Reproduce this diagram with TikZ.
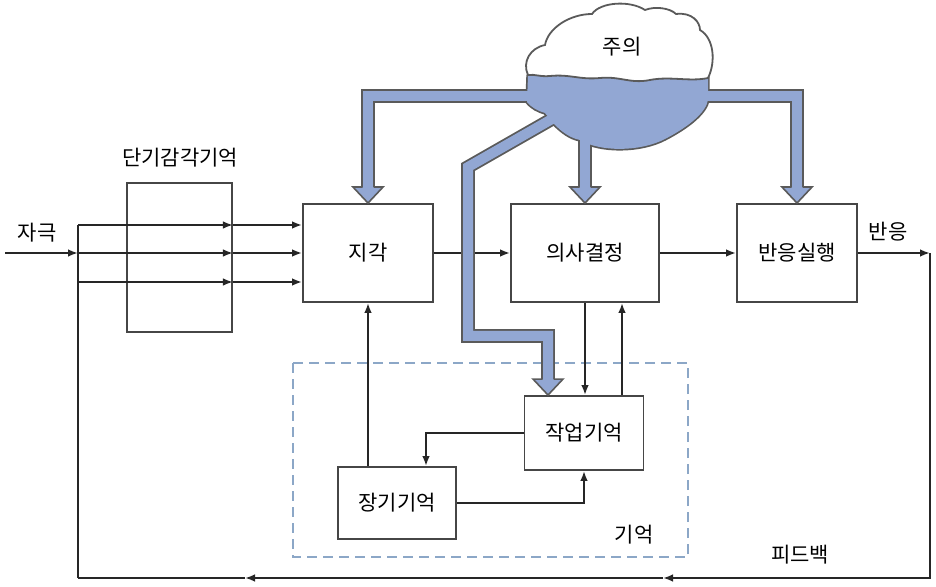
\documentclass[tikz,border=0pt]{standalone}
\usepackage{fontspec}
\setmainfont{Noto Sans CJK KR}
\usetikzlibrary{arrows.meta,calc}

\definecolor{attnblue}{RGB}{146,167,211}
\definecolor{attnedge}{RGB}{90,90,90}
\definecolor{boxedge}{RGB}{70,70,70}
\definecolor{memedge}{RGB}{140,167,199}

% big arrow head of the attention flow, tip at #1
\newcommand{\attnhead}[1]{%
  \filldraw[fill=attnblue, draw=attnedge, line width=0.8pt, line join=miter]
    ($#1+(-5.5,-16)$) -- ++(-9.5,0) -- #1 -- ($#1+(15,-16)$) -- ++(-9.5,0);}

\begin{document}
\begin{tikzpicture}[
    x=0.5pt, y=-0.5pt,
    font=\fontsize{10.5}{12}\selectfont,
    box/.style={draw=boxedge, line width=0.95pt, fill=white, inner sep=0pt},
    link/.style={draw=black!85, line width=0.9pt, -{Latex[length=5pt,width=3.8pt]}},
    plain/.style={draw=black!85, line width=0.9pt},
    band/.style={draw=attnedge, line width=6.8pt, line join=miter},
    bandfill/.style={draw=attnblue, line width=5pt, line join=miter}
  ]
  \useasboundingbox (0,0) rectangle (936,587);

  % Boxes
  \node[box, minimum width=52.5pt, minimum height=74.5pt] (sensory) at (179.5,257.5) {};
  \node (sensorylbl) at (180,158) {단기감각기억};
  \node[box, minimum width=65pt, minimum height=49pt] (percept) at (368,253) {지각};
  \node[box, minimum width=74pt, minimum height=49pt] (decide) at (585,253) {의사결정};
  \node[box, minimum width=60pt, minimum height=49pt] (respond) at (797,253) {반응실행};

  % Memory
  \draw[memedge, line width=0.9pt, dash pattern=on 5pt off 3pt] (293,363) rectangle (688,557);
  \node (memlbl) at (634,535) {기억};
  \node[box, minimum width=59.5pt, minimum height=37pt] (working) at (584,433) {작업기억};
  \node[box, minimum width=59pt, minimum height=36pt] (longterm) at (397,503) {장기기억};

  % Labels
  \node (stimlbl) at (37,233) {자극};
  \node (resplbl) at (888,232) {반응};
  \node (fblbl) at (800,555) {피드백};

  % Input and sensory channels
  \coordinate (in) at (5,253);
  \coordinate (split) at (78,253);
  \coordinate (feedL) at (78,578);
  \draw[link] (in) -- (split);
  \draw[plain] (feedL) -- (78,225);
  \foreach \y in {225,253,282} {
    \draw[link] (78,\y) -- (sensory.east |- 0,\y);
    \draw[link] (sensory.east |- 0,\y) -- (percept.west |- 0,\y);
  }

  % Main line and feedback
  \coordinate (feedR) at (930,253);
  \coordinate (fbA) at (663,578);
  \coordinate (fbB) at (245,578);
  \draw[link] (percept.east) -- (decide.west);
  \draw[link] (decide.east) -- (respond.west);
  \draw[link] (respond.east) -- (feedR);
  \draw[link] (feedR) |- (fbA);
  \draw[link] (fbA) -- (fbB);
  \draw[plain] (fbB) -- (feedL);

  % Memory links
  \draw[link] (percept.south |- longterm.north) -- (percept.south);
  \draw[link] (decide.south) -- (decide.south |- working.north);
  \coordinate (wup) at ($(working.north)+(38,0)$);
  \draw[link] (wup) -- (wup |- decide.south);
  \draw[link] (working.west) -| ($(longterm.north)+(29,0)$);
  \draw[link] (longterm.east) -| (working.south);

  % Attention flow
  \coordinate (cloudL) at (540,96);
  \coordinate (cloudR) at (700,96);
  \coordinate (cloudM) at (585,125);
  \coordinate (cloudD) at (552,119);
  \coordinate (wtip) at ($(working.north)+(-36,0)$);

  % outline pass
  \draw[band] (cloudL) -| ($(percept.north)+(0,-15)$);
  \draw[band] (cloudM) -- ($(decide.north)+(0,-15)$);
  \draw[band] (cloudR) -| ($(respond.north)+(0,-15)$);
  \draw[band] (cloudD) -- (468,167) -- (468,336) -| ($(wtip)+(0,-15)$);
  \draw[attnedge, line width=1.7pt, line join=round]
    (535,60) -- (528,76) -- (527,102)
    .. controls (532,108) and (538,111) .. (545,113) -- (554,124)
    .. controls (562,132) and (570,138) .. (580,140)
    .. controls (600,152) and (640,152) .. (665,139)
    .. controls (690,126) and (706,112) .. (708,100)
    -- (708,78) -- (700,60) -- cycle;

  % fill pass
  \draw[bandfill] (cloudL) -| ($(percept.north)+(0,-15)$);
  \draw[bandfill] (cloudM) -- ($(decide.north)+(0,-15)$);
  \draw[bandfill] (cloudR) -| ($(respond.north)+(0,-15)$);
  \draw[bandfill] (cloudD) -- (468,167) -- (468,336) -| ($(wtip)+(0,-15)$);
  \fill[attnblue]
    (535,60) -- (528,76) -- (527,102)
    .. controls (532,108) and (538,111) .. (545,113) -- (554,124)
    .. controls (562,132) and (570,138) .. (580,140)
    .. controls (600,152) and (640,152) .. (665,139)
    .. controls (690,126) and (706,112) .. (708,100)
    -- (708,78) -- (700,60) -- cycle;

  \attnhead{(percept.north)}
  \attnhead{(decide.north)}
  \attnhead{(respond.north)}
  \attnhead{(wtip)}

  % Cloud top
  \filldraw[fill=white, draw=attnedge, line width=0.9pt]
    (528,75)
    .. controls (522,62) and (530,48) .. (545,45)
    .. controls (548,28) and (570,14) .. (592,14)
    .. controls (600,2) and (630,0) .. (645,10)
    .. controls (655,6) and (670,8) .. (676,14)
    .. controls (692,12) and (700,22) .. (700,30)
    .. controls (714,38) and (716,62) .. (708,78)
    .. controls (690,82) and (670,76) .. (650,80)
    .. controls (630,84) and (620,76) .. (600,78)
    .. controls (580,80) and (570,74) .. (550,76)
    .. controls (540,77) and (535,74) .. (528,75) -- cycle;
  \node (attn) at (622,47) {주의};
\end{tikzpicture}
\end{document}
